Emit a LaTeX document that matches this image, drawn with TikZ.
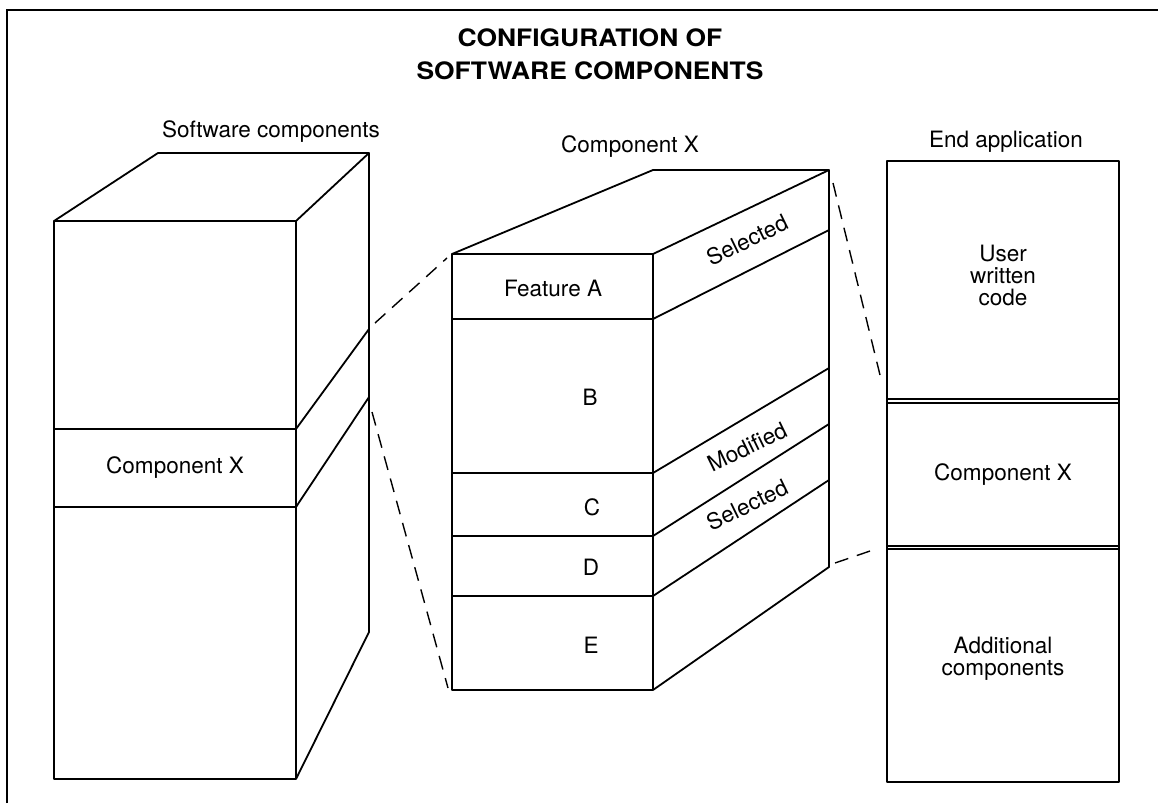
\documentclass[tikz,border=0pt]{standalone}
\usepackage{fontspec}
\setmainfont{TeX Gyre Heros}
\newfontfamily\headfont[FakeStretch=1.1]{TeX Gyre Heros}
\usetikzlibrary{calc}

\tikzset{
  edge/.style={line width=1.8pt, line join=round},
  zoomline/.style={line width=1.4pt, dash pattern=on 14pt off 9pt},
  lbl/.style={font=\fontsize{22.5}{22}\selectfont, inner sep=0pt},
  sidelbl/.style={lbl, rotate=26},
}

\begin{document}
\begin{tikzpicture}[x=1pt,y=-1pt]
  \useasboundingbox (0,0) rectangle (1158,803);
  % frame (only top and left edge show)
  \draw[line width=1.4pt] (7,803) -- (7,10) -- (1158,10);
  \node[font=\headfont\bfseries\fontsize{24}{33}\selectfont, align=center, inner sep=0pt]
    (title) at (590,54) {CONFIGURATION OF\\SOFTWARE COMPONENTS};

  % --- software components stack
  \draw[edge] (54,221) rectangle (296,779);
  \draw[edge] (54,221) -- (158,153) -- (369,153) -- (296,221);
  \draw[edge] (369,153) -- (369,632) -- (296,779);
  \foreach \f/\s in {429/329, 507/397}
    \draw[edge] (54,\f) -- (296,\f) -- (369,\s);
  \node[lbl] (swlabel) at (271,132) {Software components};
  \node[lbl] (leftx) at (175,468) {Component X};

  % --- component X, exploded
  \draw[edge] (452,254) rectangle (653,690);
  \draw[edge] (452,254) -- (653,170) -- (829,170) -- (653,254);
  \draw[edge] (829,170) -- (829,567) -- (653,690);
  \foreach \f/\s in {319/230, 473/368, 536/424, 596/480}
    \draw[edge] (452,\f) -- (653,\f) -- (829,\s);
  \node[lbl] (cxlabel) at (630,147) {Component X};
  \node[lbl] (featA) at (553,288) {Feature A};
  \node[lbl] (featB) at (590,397) {B};
  \node[lbl] (featC) at (592,507) {C};
  \node[lbl] (featD) at (591,567) {D};
  \node[lbl] (featE) at (591,645) {E};
  \node[sidelbl] (selA) at (747,240) {Selected};
  \node[sidelbl] (modC) at (747,447) {Modified};
  \node[sidelbl] (selD) at (747,505) {Selected};

  % --- end application
  \draw[edge] (887,161) rectangle (1119,782);
  \foreach \y in {399,403,546,549}
    \draw[line width=1.2pt] (887,\y) -- (1119,\y);
  \node[lbl] (endlabel) at (1006,142) {End application};
  \node[lbl, align=center] (usercode) at (1003,275) {User\\written\\code};
  \node[lbl] (rightx) at (1003,475) {Component X};
  \node[lbl, align=center] (addcomp) at (1003,659) {Additional\\components};

  % --- dashed zoom lines
  \coordinate (zl1) at (375,323);
  \coordinate (zm1) at (447,258);
  \coordinate (zl2) at (372,412);
  \coordinate (zm2) at (448,688);
  \coordinate (zm3) at (833,183);
  \coordinate (zr1) at (880,375);
  \coordinate (zm4) at (835,563);
  \coordinate (zr2) at (873,550);
  \draw[zoomline] (zl1) -- (zm1);
  \draw[zoomline] (zl2) -- (zm2);
  \draw[zoomline] (zm3) -- (zr1);
  \draw[zoomline] (zm4) -- (zr2);
\end{tikzpicture}
\end{document}
